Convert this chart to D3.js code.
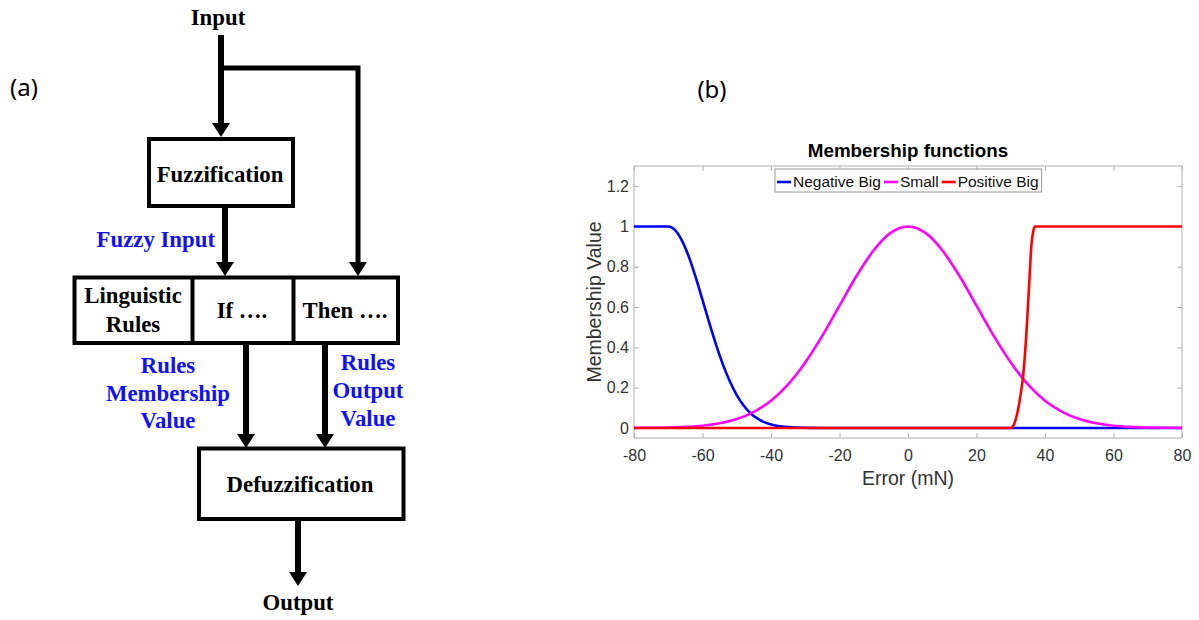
<!DOCTYPE html>
<html><head><meta charset="utf-8">
<script src="https://cdn.jsdelivr.net/npm/d3@7"></script>
<style>body{margin:0;background:#fff;} svg{display:block;}</style>
</head><body>
<svg id="fig" width="1199" height="620"></svg>
<script>
// ---------------- Panel (b) data ----------------
const xTicks = [-80, -60, -40, -20, 0, 20, 40, 60, 80];
const yTicks = [0, 0.2, 0.4, 0.6, 0.8, 1, 1.2];
const seriesNames = ["Negative Big", "Small", "Positive Big"];
const seriesColors = ["#0000ff", "#ff00ff", "#ff0000"];

const negBigX = [-80, -75, -70, -68, -66, -64, -62, -60, -58, -56, -54, -52, -50, -48, -46, -44, -42, -40, -38, -35, -30, -25, 0, 30, 80];
const negBigY = [1, 1, 1, 0.982, 0.93, 0.85, 0.748, 0.635, 0.52, 0.411, 0.313, 0.23, 0.163, 0.111, 0.073, 0.047, 0.029, 0.017, 0.0096, 0.004, 0.0007, 0, 0, 0, 0];

const smallX = [-80, -75, -70, -65, -60, -55, -50, -45, -40, -35, -30, -25, -20, -15, -10, -5, 0, 5, 10, 15, 20, 25, 30, 35, 40, 45, 50, 55, 60, 65, 70, 75, 80];
const smallY = [0.0003, 0.0009, 0.0022, 0.0051, 0.011, 0.023, 0.044, 0.080, 0.135, 0.216, 0.325, 0.458, 0.607, 0.755, 0.882, 0.969, 1, 0.969, 0.882, 0.755, 0.607, 0.458, 0.325, 0.216, 0.135, 0.080, 0.044, 0.023, 0.011, 0.0051, 0.0022, 0.0009, 0.0003];

const posBigX = [-80, 0, 30, 30.5, 31, 31.5, 32, 32.5, 33, 33.5, 34, 34.5, 35, 35.5, 36, 36.5, 37, 50, 80];
const posBigY = [0, 0, 0, 0.005, 0.02, 0.045, 0.08, 0.125, 0.18, 0.24, 0.33, 0.45, 0.6, 0.75, 0.9, 0.97, 1, 1, 1];

// ---------------- Panel (a) text ----------------
const panelTags = ["(a)", "(b)"];
const ioLabels = ["Input", "Output"];
const blockNames = ["Fuzzification", "Defuzzification"];
const ruleCells = [["Linguistic", "Rules"], ["If …."], ["Then …."]];
const blueNotes = [["Fuzzy Input"], ["Rules", "Membership", "Value"], ["Rules", "Output", "Value"]];

const svg = d3.select("#fig");
svg.append("rect").attr("width", 1199).attr("height", 620).attr("fill", "#fff");

// ======= Panel (a): flow diagram =======
const A = svg.append("g");
const serif = "'Liberation Serif', 'Times New Roman', serif";
const fs = 22.8;

function arrowDown(x, y1, y2, w) {
  A.append("line").attr("x1", x).attr("x2", x).attr("y1", y1).attr("y2", y2 - 12)
    .attr("stroke", "#000").attr("stroke-width", w || 6);
  A.append("path").attr("d", `M${x - 9},${y2 - 14} L${x + 9},${y2 - 14} L${x},${y2} Z`).attr("fill", "#000");
}
function box(x0, y0, x1, y1) {
  A.append("rect").attr("x", x0).attr("y", y0).attr("width", x1 - x0).attr("height", y1 - y0)
    .attr("fill", "none").attr("stroke", "#000").attr("stroke-width", 4);
}
function label(txt, x, y, color) {
  A.append("text").attr("x", x).attr("y", y).attr("text-anchor", "middle")
    .attr("font-family", serif).attr("font-weight", "bold").attr("font-size", fs)
    .attr("fill", color || "#000").text(txt);
}

// Input
label(ioLabels[0], 218, 25);
arrowDown(221, 35, 137);
A.append("path").attr("d", "M221,68 H358 V264").attr("fill", "none")
  .attr("stroke", "#000").attr("stroke-width", 5);
A.append("path").attr("d", "M349,262 L367,262 L358,276 Z").attr("fill", "#000");

// Fuzzification
box(149, 139, 293, 206);
label(blockNames[0], 220, 182);
arrowDown(225, 206, 276);
A.append("text").attr("x", 215).attr("y", 247).attr("text-anchor", "end")
  .attr("font-family", serif).attr("font-weight", "bold").attr("font-size", fs)
  .attr("fill", "#1010ff").text(blueNotes[0][0]);

// Rules row
box(74.5, 277.5, 398, 343);
A.append("line").attr("x1", 192.5).attr("x2", 192.5).attr("y1", 277.5).attr("y2", 343).attr("stroke", "#000").attr("stroke-width", 4);
A.append("line").attr("x1", 293.5).attr("x2", 293.5).attr("y1", 277.5).attr("y2", 343).attr("stroke", "#000").attr("stroke-width", 4);
label(ruleCells[0][0], 133, 303);
label(ruleCells[0][1], 133, 332);
label(ruleCells[1][0], 242, 318);
label(ruleCells[2][0], 345, 318);

// arrows to defuzz
arrowDown(246, 343, 448);
arrowDown(325, 343, 448);
blueNotes[1].forEach((t, i) => label(t, 168, 373 + i * 27.5, "#1010ff"));
blueNotes[2].forEach((t, i) => label(t, 368, 370 + i * 28, "#1010ff"));

// Defuzzification
box(199, 448.5, 403.5, 519);
label(blockNames[1], 300, 492);
arrowDown(298, 519, 586);
label(ioLabels[1], 298, 610);

// Panel tags
const sans = "'Noto Sans', 'Open Sans', sans-serif";
svg.append("text").attr("x", 24).attr("y", 96).attr("text-anchor", "middle")
  .attr("font-family", sans).attr("font-size", 24).attr("fill", "#000").text(panelTags[0]);
svg.append("text").attr("x", 712).attr("y", 98).attr("text-anchor", "middle")
  .attr("font-family", sans).attr("font-size", 24).attr("fill", "#000").text(panelTags[1]);

// ======= Panel (b): membership functions =======
const L = 634, R = 1182, T = 166, B = 438;
const x = d3.scaleLinear().domain([-80, 80]).range([L, R]);
const y = d3.scaleLinear().domain([-0.05, 1.3]).range([B, T]);
const G = svg.append("g");
const axFont = "'Liberation Sans', Arial, sans-serif";
const axColor = "#b0b0b0", txtColor = "#333";

G.append("clipPath").attr("id", "clip").append("rect")
  .attr("x", L).attr("y", T).attr("width", R - L).attr("height", B - T);

function styleAxis(g) {
  g.select(".domain").remove();
  g.selectAll(".tick line").attr("stroke", axColor);
  g.selectAll(".tick text").attr("fill", txtColor).attr("font-family", axFont).attr("font-size", 16);
}
G.append("g").attr("transform", `translate(0,${B})`)
  .call(d3.axisBottom(x).tickValues(xTicks).tickSize(-5).tickPadding(12).tickFormat(d => String(d)))
  .call(styleAxis);
G.append("g").attr("transform", `translate(0,${T})`)
  .call(d3.axisTop(x).tickValues(xTicks).tickSize(-5).tickFormat(""))
  .call(styleAxis);
G.append("g").attr("transform", `translate(${L},0)`)
  .call(d3.axisLeft(y).tickValues(yTicks).tickSize(-5).tickPadding(5).tickFormat(d => String(d)))
  .call(styleAxis);
G.append("g").attr("transform", `translate(${R},0)`)
  .call(d3.axisRight(y).tickValues(yTicks).tickSize(-5).tickFormat(""))
  .call(styleAxis);
G.append("rect").attr("x", L).attr("y", T).attr("width", R - L).attr("height", B - T)
  .attr("fill", "none").attr("stroke", axColor).attr("stroke-width", 1);

const series = [
  { xs: negBigX, ys: negBigY },
  { xs: smallX, ys: smallY },
  { xs: posBigX, ys: posBigY }
];
const line = d3.line().x(d => x(d[0])).y(d => y(d[1])).curve(d3.curveMonotoneX);
series.forEach((s, i) => {
  const pts = s.xs.map((v, j) => [v, s.ys[j]]);
  G.append("path").datum(pts).attr("d", line).attr("fill", "none")
    .attr("stroke", seriesColors[i]).attr("stroke-width", 2.6)
    .attr("clip-path", "url(#clip)");
});

// Title and labels
G.append("text").attr("x", (L + R) / 2).attr("y", 157).attr("text-anchor", "middle")
  .attr("font-family", axFont).attr("font-weight", "bold").attr("font-size", 18.8)
  .attr("fill", "#000").text("Membership functions");
G.append("text").attr("x", (L + R) / 2).attr("y", 485).attr("text-anchor", "middle")
  .attr("font-family", axFont).attr("font-size", 19.5).attr("fill", txtColor).text("Error (mN)");
G.append("text").attr("transform", `translate(601,${(T + B) / 2}) rotate(-90)`).attr("text-anchor", "middle")
  .attr("font-family", axFont).attr("font-size", 19.5).attr("fill", txtColor).text("Membership Value");

// Legend
const leg = G.append("g");
const legX0 = 775, legY0 = 169, legH = 23;
let cx = legX0 + 2;
seriesNames.forEach((name, i) => {
  leg.append("line").attr("x1", cx).attr("x2", cx + 14).attr("y1", legY0 + 13).attr("y2", legY0 + 13)
    .attr("stroke", seriesColors[i]).attr("stroke-width", 2.6);
  cx += 16;
  const t = leg.append("text").attr("x", cx).attr("y", legY0 + 18)
    .attr("font-family", axFont).attr("font-size", 15.5).attr("fill", "#111").text(name);
  cx += t.node().getComputedTextLength() + 3;
});
leg.insert("rect", ":first-child").attr("x", legX0).attr("y", legY0).attr("width", cx - legX0).attr("height", legH)
  .attr("fill", "#fff").attr("stroke", "#999").attr("stroke-width", 1);
</script>
</body></html>
